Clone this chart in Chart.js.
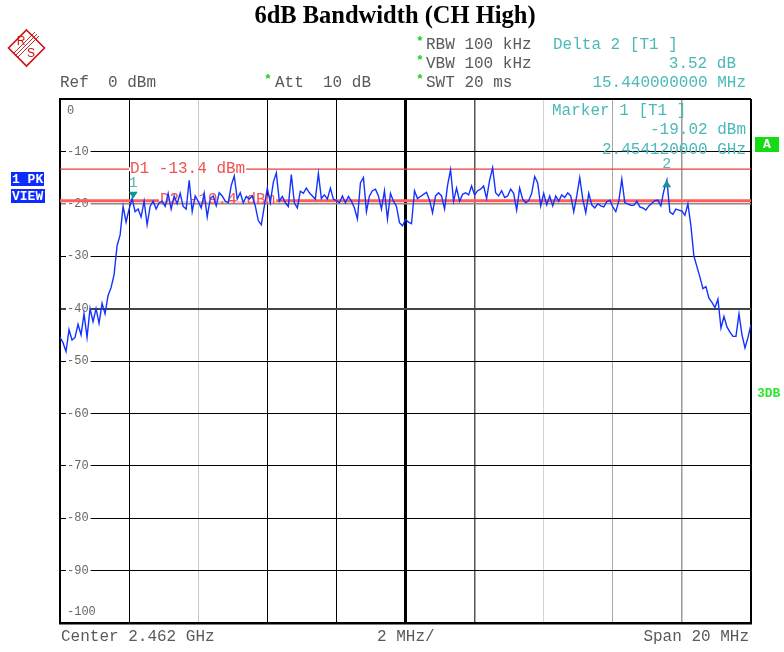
<!DOCTYPE html>
<html lang="en">
<head>
<meta charset="UTF-8" />
<title>6dB Bandwidth (CH High)</title>
<script src="https://cdn.jsdelivr.net/npm/chart.js"></script>
<style>
  html,body{margin:0;padding:0;background:#fff}
  canvas{display:block}
</style>
</head>
<body>
<canvas id="spec" width="784" height="652"></canvas>
<script>
// sweep (MHz) - center 2.462 GHz, span 20 MHz
const startMHz = 2452;
const stopMHz = 2472;
const gridStepMHz = 2;

// trace 1 (max peak), dBm, evenly spaced over the span
const traceDbm = [
  -45.5,-46.5,-48.2,-44.0,-46.0,-45.5,-43.0,-45.0,-41.0,-45.5,
  -40.0,-42.5,-40.0,-42.8,-39.0,-41.0,-37.5,-36.0,-33.5,-28.0,
  -26.0,-20.5,-23.5,-21.0,-19.0,-21.5,-21.0,-22.5,-19.5,-24.0,
  -20.5,-19.5,-21.0,-19.8,-19.5,-20.5,-18.0,-21.0,-18.5,-20.0,
  -18.0,-20.5,-21.0,-15.5,-21.5,-18.5,-19.5,-20.8,-18.0,-22.5,
  -19.0,-18.5,-20.4,-17.9,-18.5,-19.5,-19.8,-16.5,-14.7,-19.1,
  -17.9,-19.8,-18.6,-19.1,-18.5,-20.4,-23.2,-24.0,-20.5,-17.0,
  -19.8,-15.9,-14.1,-19.5,-18.6,-19.8,-20.5,-14.4,-19.8,-20.8,
  -17.6,-18.0,-17.0,-17.9,-18.5,-19.1,-14.2,-19.0,-18.3,-19.1,
  -17.0,-19.1,-19.4,-19.8,-18.5,-19.8,-18.6,-19.5,-20.8,-22.9,
  -16.0,-15.0,-21.5,-18.5,-17.5,-17.2,-18.5,-21.0,-17.5,-22.9,
  -18.0,-19.5,-20.5,-23.6,-24.2,-23.0,-23.5,-23.8,-17.5,-19.0,
  -18.6,-18.2,-17.8,-19.3,-21.7,-18.5,-17.9,-18.5,-21.0,-16.5,
  -13.5,-19.5,-17.0,-19.5,-18.2,-17.9,-18.3,-16.6,-18.3,-17.5,
  -17.2,-16.6,-19.0,-15.5,-13.1,-17.9,-18.5,-17.5,-18.8,-18.5,
  -17.2,-18.0,-21.2,-17.0,-19.1,-19.8,-19.4,-18.0,-14.8,-16.0,
  -20.4,-18.0,-20.2,-18.5,-20.4,-18.5,-19.5,-18.3,-18.8,-17.9,
  -18.5,-21.5,-18.5,-15.0,-19.1,-21.7,-18.0,-20.2,-20.8,-20.0,
  -20.4,-20.6,-19.6,-19.3,-20.6,-21.5,-19.5,-15.3,-19.8,-20.0,
  -20.3,-20.3,-19.5,-20.6,-20.8,-21.2,-20.4,-19.9,-19.4,-19.3,
  -20.4,-17.5,-15.5,-21.6,-22.0,-21.0,-21.2,-21.4,-22.2,-20.0,
  -24.2,-30.0,-32.0,-34.0,-36.2,-35.8,-38.0,-38.8,-39.8,-38.2,
  -43.7,-41.5,-43.5,-44.5,-45.3,-45.3,-41.0,-45.0,-47.5,-45.5,
  -43.0
];

// level axis (dBm)
const levelTicks = [0,-10,-20,-30,-40,-50,-60,-70,-80,-90,-100];
const levelLabels = ['0','-10','-20','-30','-40','-50','-60','-70','-80','-90','-100'];

// display lines
const displayLines = [
  {label:'D1 -13.4 dBm', level:-13.4},
  {label:'D2 -19.4 dBm', level:-19.4}
];

// markers: 1 is the reference, 2 is delta (+15.44 MHz, +3.52 dB)
const markerFreqs = [2454.12, 2469.56];
const markerLevels = [-19.02, -15.50];
const markerNames = ['1','2'];

const MONO = '"Liberation Mono","DejaVu Sans Mono",monospace';
const TEAL = '#4cb9b9';
const GREY = '#5a5a5a';

// grid look per division (left to right, bottom to top)
const xGridColor = ['#000','#000','#c8c8c8','#000','#000','#000','#555','#d4d4d4','#a8a8a8','#9a9a9a','#000'];
const xGridWidth = [2,1,1,1,1,3,1.5,1,1,1.5,2];
const yGridColor = ['#000','#000','#000','#000','#000','#000','#444','#000','#8a8a8a','#000','#000'];
const yGridWidth = [2,1,1,1,1,1,2,1,1.5,1,2];

function txt(ctx, s, x, y, color, font, align) {
  ctx.font = font;
  ctx.fillStyle = color;
  ctx.textAlign = align || 'left';
  ctx.textBaseline = 'middle';
  ctx.fillText(s, x, y);
}

const decor = {
  id: 'decor',
  beforeDraw(chart) {
    const c = chart.ctx;
    c.save();
    c.fillStyle = '#fff';
    c.fillRect(0, 0, chart.width, chart.height);
    c.restore();
  },
  beforeDatasetsDraw(chart) {
    const c = chart.ctx, a = chart.chartArea, y = chart.scales.y;
    c.save();
    // level labels sit inside the grid, line broken behind them
    c.font = '12px ' + MONO;
    levelTicks.forEach((v, i) => {
      let py = y.getPixelForValue(v);
      if (i === 0) py += 12;
      else if (i === levelTicks.length - 1) py -= 11;
      else {
        const w = c.measureText(levelLabels[i]).width;
        c.fillStyle = '#fff';
        c.fillRect(66, py - 6, w + 3, 12);
      }
      txt(c, levelLabels[i], 67, py, '#666', '12px ' + MONO);
    });
    // display lines D1 / D2
    displayLines.forEach((d, i) => {
      const py = y.getPixelForValue(d.level);
      c.strokeStyle = i === 0 ? '#f03a3a' : '#ff5c5c';
      c.lineWidth = i === 0 ? 1.2 : 3;
      c.beginPath();
      c.moveTo(a.left, py);
      c.lineTo(a.right, py);
      c.stroke();
    });
    displayLines.forEach((d, i) => {
      const py = y.getPixelForValue(d.level) - (i === 0 ? 0 : 1);
      const x0 = i === 0 ? 130 : 160;
      c.font = '16px ' + MONO;
      const w = c.measureText(d.label).width;
      c.fillStyle = '#fff';
      c.fillRect(x0 - 1, py - 2, w + 2, 4);
      txt(c, d.label, x0, py, '#f25252', '16px ' + MONO);
    });
    c.restore();
  },
  afterDatasetsDraw(chart) {
    const c = chart.ctx, x = chart.scales.x, y = chart.scales.y;
    c.save();
    markerFreqs.forEach((f, i) => {
      const px = x.getPixelForValue(f), py = y.getPixelForValue(markerLevels[i]);
      c.fillStyle = '#169494';
      c.beginPath();
      if (i === 0) {
        c.moveTo(px - 4.5, py - 7); c.lineTo(px + 4.5, py - 7); c.lineTo(px, py);
      } else {
        c.moveTo(px - 4.5, py + 7); c.lineTo(px + 4.5, py + 7); c.lineTo(px, py);
      }
      c.closePath();
      c.fill();
      txt(c, markerNames[i], px, py - 16, TEAL, '15px ' + MONO, 'center');
    });
    // marker readout
    txt(c, 'Marker 1 [T1 ]', 552, 111, TEAL, '16px ' + MONO);
    txt(c, '-19.02 dBm', 746, 130, TEAL, '16px ' + MONO, 'right');
    txt(c, '2.454120000 GHz', 746, 150, TEAL, '16px ' + MONO, 'right');
    c.restore();
  },
  afterDraw(chart) {
    const c = chart.ctx;
    c.save();
    // title
    txt(c, '6dB Bandwidth (CH High)', 395, 17, '#000', 'bold 24.5px "Liberation Serif","Times New Roman",serif', 'center');

    // header rows
    const star = (sx, sy) => txt(c, '*', sx, sy - 3, '#22cc22', 'bold 13px ' + MONO);
    star(416, 45); txt(c, 'RBW 100 kHz', 426, 45, GREY, '16px ' + MONO);
    star(416, 64); txt(c, 'VBW 100 kHz', 426, 64, GREY, '16px ' + MONO);
    star(416, 83); txt(c, 'SWT 20 ms', 426, 83, GREY, '16px ' + MONO);
    txt(c, 'Ref  0 dBm', 60, 83, GREY, '16px ' + MONO);
    star(264, 83); txt(c, 'Att  10 dB', 275, 83, GREY, '16px ' + MONO);
    txt(c, 'Delta 2 [T1 ]', 553, 45, TEAL, '16px ' + MONO);
    txt(c, '3.52 dB', 736, 64, TEAL, '16px ' + MONO, 'right');
    txt(c, '15.440000000 MHz', 746, 83, TEAL, '16px ' + MONO, 'right');

    // footer
    txt(c, 'Center 2.462 GHz', 61, 637, GREY, '16px ' + MONO);
    txt(c, '2 MHz/', 377, 637, GREY, '16px ' + MONO);
    txt(c, 'Span 20 MHz', 749, 637, GREY, '16px ' + MONO, 'right');

    // side boxes
    c.fillStyle = '#0d2bff';
    c.fillRect(11, 172, 33, 14);
    c.fillRect(11, 189, 34, 14);
    txt(c, '1 PK', 12, 179.5, '#fff', 'bold 13px ' + MONO);
    txt(c, 'VIEW', 12, 196.5, '#fff', 'bold 13px ' + MONO);
    c.fillStyle = '#14dc14';
    c.fillRect(755, 137, 24, 15);
    txt(c, 'A', 767, 145, '#fff', 'bold 13px ' + MONO, 'center');
    txt(c, '3DB', 757, 394, '#2ee62e', 'bold 13px ' + MONO);

    // R&S logo
    c.strokeStyle = '#cc1111';
    c.lineWidth = 1.6;
    c.beginPath();
    c.moveTo(26.5, 30); c.lineTo(44.5, 48); c.lineTo(26.5, 66); c.lineTo(8.5, 48); c.closePath();
    c.stroke();
    c.lineWidth = 0.9;
    [-2, 0, 2].forEach(o => {
      c.beginPath();
      c.moveTo(15 + o, 56 + o); c.lineTo(37 + o, 34 + o);
      c.stroke();
    });
    txt(c, 'R', 21, 42, '#cc1111', '12px "Liberation Sans",sans-serif', 'center');
    txt(c, 'S', 31, 54, '#cc1111', '12px "Liberation Sans",sans-serif', 'center');
    c.restore();
  }
};

const step = (stopMHz - startMHz) / (traceDbm.length - 1);

new Chart(document.getElementById('spec').getContext('2d'), {
  type: 'line',
  data: {
    datasets: [{
      label: 'Trace 1',
      data: traceDbm.map((v, i) => ({x: startMHz + i * step, y: v})),
      borderColor: '#1233ff',
      borderWidth: 1.4,
      pointRadius: 0,
      tension: 0,
      fill: false
    }]
  },
  options: {
    responsive: false,
    animation: false,
    events: [],
    layout: {padding: {left: 60, top: 99, right: 33, bottom: 29}},
    plugins: {legend: {display: false}, tooltip: {enabled: false}},
    scales: {
      x: {
        type: 'linear', min: startMHz, max: stopMHz,
        ticks: {display: false, stepSize: gridStepMHz},
        grid: {drawTicks: false, color: c => xGridColor[c.index], lineWidth: c => xGridWidth[c.index]},
        border: {color: '#000', width: 2.5}
      },
      y: {
        min: -100, max: 0,
        ticks: {display: false, stepSize: 10},
        grid: {drawTicks: false, color: c => yGridColor[c.index], lineWidth: c => yGridWidth[c.index]},
        border: {color: '#000', width: 2}
      }
    }
  },
  plugins: [decor]
});
</script>
</body>
</html>
